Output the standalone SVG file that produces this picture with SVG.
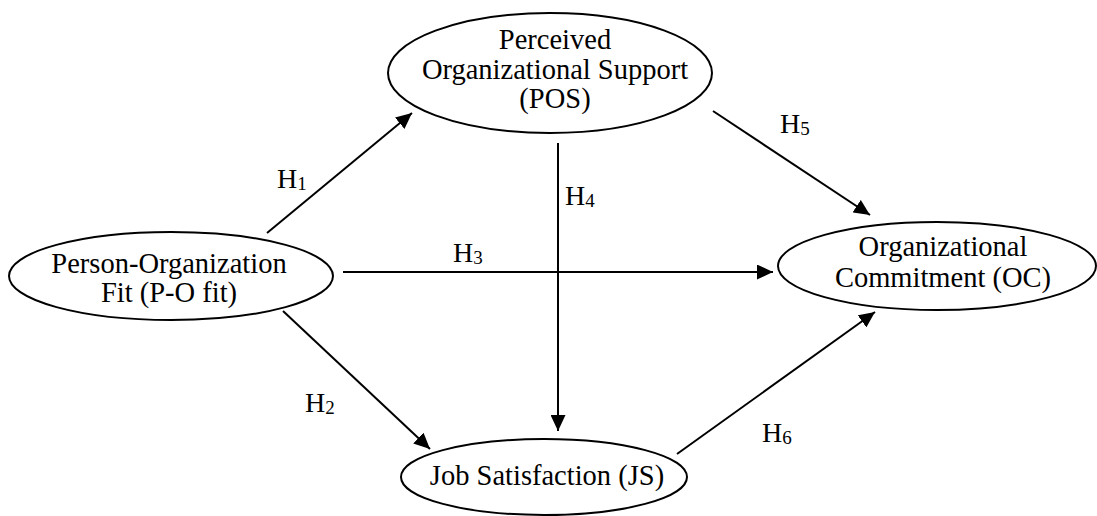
<svg xmlns="http://www.w3.org/2000/svg" width="1097" height="516" viewBox="0 0 1097 516">
<style>
.node ellipse{fill:#fff;stroke:#000;stroke-width:2}
.t{font-family:"Liberation Serif","Times New Roman",serif;font-size:28.5px;fill:#000;text-anchor:middle}
.h{font-family:"Liberation Serif","Times New Roman",serif;font-size:28px;fill:#000}
.s{font-size:19px}
.edge line{stroke:#000;stroke-width:2;marker-end:url(#arr)}
</style>
<defs>
<marker id="arr" markerUnits="userSpaceOnUse" markerWidth="16" markerHeight="15" refX="16" refY="7.5" orient="auto">
<path d="M0,0 L16,7.5 L0,15 z" fill="#000"/>
</marker>
</defs>
<rect width="1097" height="516" fill="#fff"/>
<g id="edges" class="edge">
<line x1="267" y1="233" x2="412" y2="113"/>
<line x1="283" y1="311" x2="430" y2="449"/>
<line x1="343" y1="272" x2="773" y2="272"/>
<line x1="558" y1="143" x2="558" y2="431"/>
<line x1="713" y1="111" x2="870" y2="215"/>
<line x1="677" y1="454" x2="875" y2="312"/>
</g>
<g id="labels">
<text class="h" x="277" y="188">H<tspan class="s" dy="2">1</tspan></text>
<text class="h" x="305" y="412">H<tspan class="s" dy="2">2</tspan></text>
<text class="h" x="453" y="262">H<tspan class="s" dy="2">3</tspan></text>
<text class="h" x="565" y="205">H<tspan class="s" dy="2">4</tspan></text>
<text class="h" x="780" y="133">H<tspan class="s" dy="2">5</tspan></text>
<text class="h" x="762" y="442">H<tspan class="s" dy="2">6</tspan></text>
</g>
<g id="pos" class="node">
<ellipse cx="550" cy="73" rx="162" ry="60"/>
<text class="t" x="555" y="49">Perceived</text>
<text class="t" x="555" y="79">Organizational Support</text>
<text class="t" x="555" y="108">(POS)</text>
</g>
<g id="pofit" class="node">
<ellipse cx="171" cy="276" rx="162" ry="44"/>
<text class="t" x="169" y="273">Person-Organization</text>
<text class="t" x="169" y="302">Fit (P-O fit)</text>
</g>
<g id="oc" class="node">
<ellipse cx="937" cy="266" rx="159" ry="44"/>
<text class="t" x="943" y="256">Organizational</text>
<text class="t" x="943" y="287">Commitment (OC)</text>
</g>
<g id="js" class="node">
<ellipse cx="544" cy="477" rx="143" ry="38"/>
<text class="t" x="547" y="485">Job Satisfaction (JS)</text>
</g>
</svg>
